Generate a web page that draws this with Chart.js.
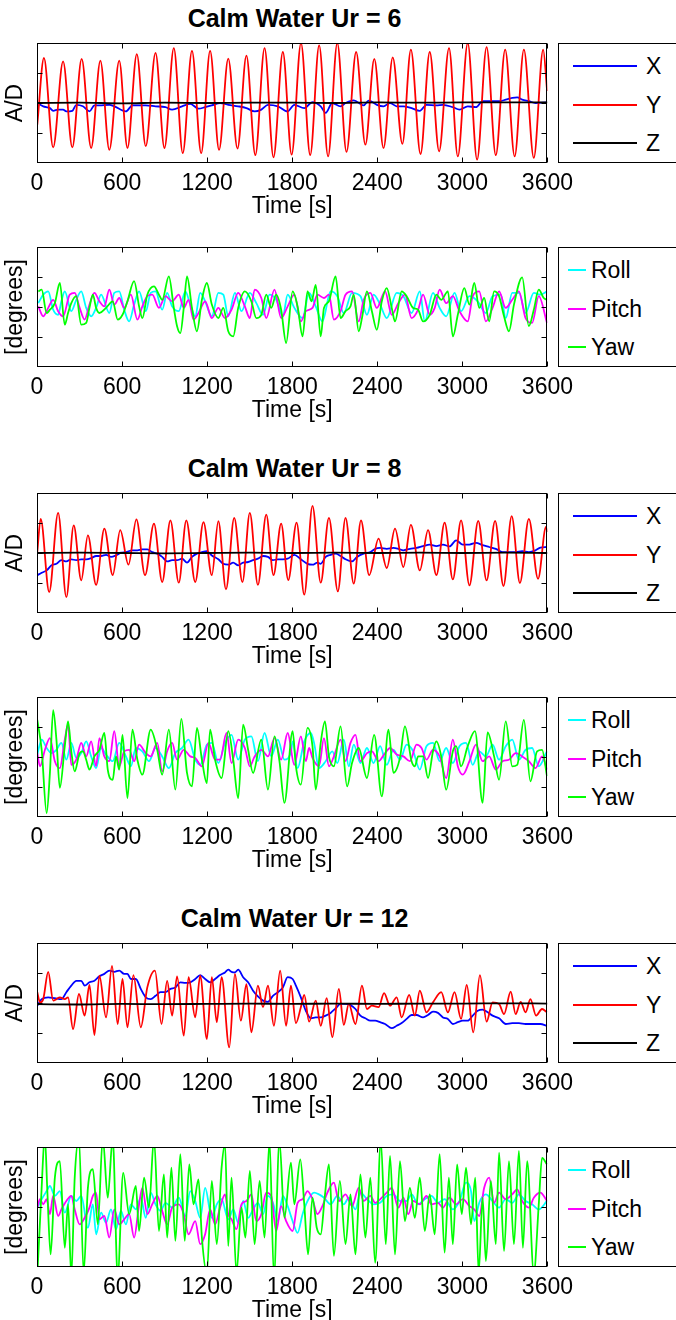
<!DOCTYPE html>
<html>
<head>
<meta charset="utf-8">
<script src="https://cdn.jsdelivr.net/npm/chart.js@4.4.0/dist/chart.umd.min.js"></script>
<style>
  body { margin: 0; background: #fff; }
  #page { position: relative; width: 676px; height: 1320px; overflow: hidden; font-family: "Liberation Sans", Arial, sans-serif; }
  .title { position: absolute; left: 37px; width: 515px; text-align: center; font-weight: bold; font-size: 25px; line-height: 28px; }
  canvas { position: absolute; left: 0; }
  .legend { position: absolute; left: 558px; width: 130px; border: 1px solid #000; background: #fff; box-sizing: border-box; }
  .legend .sw { position: absolute; height: 2px; }
  .legend .lbl { position: absolute; font-size: 23px; line-height: 26px; }
</style>
</head>
<body>
<div id="page"></div>
<script>
// time axis ticks (s) and y ticks (no labels)
const timeTicks = [0, 600, 1200, 1800, 2400, 3000, 3600];
const yTicks = [-1, 0, 1];

// ---- Ur = 6 ----
const ur6X = [[2,0],[44,-0.11],[91,-0.17],[114,-0.26],[149,-0.22],[184,-0.22],[207,-0.28],[249,-0.26],[277,-0.06],[324,-0.11],[370,-0.28],[405,-0.08],[440,-0.08],[510,-0.06],[545,-0.11],[627,-0.28],[673,-0.08],[767,-0.08],[836,-0.11],[906,-0.14],[953,-0.22],[1023,-0.11],[1081,-0.03],[1139,-0.19],[1186,-0.14],[1233,-0.08],[1291,0],[1349,-0.06],[1419,-0.11],[1477,-0.17],[1535,-0.28],[1582,-0.22],[1629,-0.06],[1699,-0.11],[1768,-0.28],[1815,-0.06],[1885,-0.17],[1943,0.03],[2001,-0.11],[2036,-0.33],[2083,0],[2141,-0.11],[2176,0],[2234,0.09],[2304,-0.08],[2339,0.08],[2397,-0.06],[2444,-0.11],[2490,0],[2537,-0.11],[2584,-0.11],[2642,-0.17],[2700,-0.26],[2747,-0.06],[2817,-0.08],[2863,-0.06],[2933,-0.14],[2980,-0.22],[3038,-0.11],[3096,-0.14],[3143,0.06],[3213,0.06],[3259,0.06],[3306,0.11],[3352,0.17],[3387,0.19],[3422,0.11],[3469,0.06],[3516,0],[3597,0.02]];
const ur6Y = [[2,-0.72],[49,1.5],[114,-1.48],[184,1.39],[249,-1.48],[315,1.47],[382,-1.5],[447,1.41],[510,-1.56],[580,1.41],[638,-1.5],[704,1.63],[767,-1.44],[836,1.67],[899,-1.5],[965,1.83],[1028,-1.67],[1093,1.74],[1158,-1.67],[1221,1.74],[1284,-1.56],[1349,1.48],[1414,-1.52],[1477,1.58],[1540,-1.74],[1605,1.83],[1668,-1.81],[1734,1.7],[1796,-1.72],[1862,2.0],[1927,-1.74],[1990,1.92],[2053,-1.78],[2118,2.0],[2183,-1.63],[2251,1.7],[2316,-1.39],[2379,1.47],[2444,-1.5],[2509,1.52],[2577,-1.36],[2637,1.78],[2705,-1.7],[2770,1.7],[2836,-1.61],[2906,1.83],[2968,-1.78],[3038,2.0],[3104,-1.89],[3171,1.86],[3236,-1.74],[3302,1.78],[3369,-1.78],[3434,1.78],[3504,-1.83],[3570,1.78],[3598,0.4]];
const ur6Z = [[0,0],[300,0.01],[600,-0.01],[900,0.01],[1200,0],[1500,0.01],[1800,0.01],[2100,0],[2400,0.02],[2700,0.01],[3000,0.02],[3300,0.02],[3600,0.02]];
const ur6Roll = [[9,0.13],[44,0.41],[79,0.52],[114,-0.09],[149,-0.26],[172,0.19],[196,0.52],[242,-0.14],[277,0.24],[312,0.52],[347,-0.03],[382,-0.31],[417,-0.03],[452,0.41],[510,-0.2],[545,0.47],[580,0.52],[615,-0.09],[650,-0.48],[685,0.08],[720,0.52],[767,-0.14],[802,0.47],[836,0.52],[883,-0.09],[918,0.47],[953,0.02],[1000,-0.14],[1046,0.52],[1081,0.08],[1116,-0.31],[1151,0.47],[1186,0.19],[1233,-0.31],[1279,0.47],[1314,0.41],[1349,-0.31],[1396,0.47],[1442,-0.14],[1501,0.47],[1547,0.13],[1594,-0.26],[1640,0.41],[1687,0.24],[1734,-0.31],[1768,0.41],[1815,-0.03],[1873,-0.37],[1919,0.47],[1966,0.02],[2013,-0.48],[2071,0.52],[2118,0.36],[2164,-0.2],[2222,0.47],[2281,0.36],[2327,-0.26],[2374,0.41],[2420,0.08],[2467,-0.37],[2537,0.47],[2584,0.36],[2642,-0.2],[2700,0.52],[2735,-0.48],[2793,0.47],[2840,-0.03],[2886,-0.31],[2945,0.47],[2991,-0.14],[3050,0.36],[3108,0.19],[3166,-0.2],[3213,0.36],[3271,0.41],[3306,-0.37],[3352,0.47],[3399,0.47],[3446,-0.2],[3504,0.47],[3550,0.41],[3597,0.52]];
const ur6Pitch = [[9,0.02],[44,-0.31],[79,-0.03],[114,0.24],[149,-0.14],[184,-0.31],[231,0.41],[266,0.47],[301,-0.03],[336,-0.42],[370,0.08],[405,0.47],[440,0.19],[475,0.02],[510,0.58],[545,0.08],[580,0.3],[615,-0.03],[662,0.41],[708,-0.42],[743,0.02],[778,0.36],[813,0.41],[860,-0.03],[906,0.36],[953,0.19],[1000,0.41],[1035,-0.03],[1069,0.24],[1104,-0.42],[1139,-0.2],[1186,0.19],[1233,-0.37],[1279,-0.03],[1326,-0.37],[1372,-0.09],[1419,0.47],[1466,0.02],[1501,-0.37],[1535,0.58],[1582,0.3],[1617,-0.37],[1675,0.58],[1722,-0.37],[1768,0.02],[1815,0.41],[1861,-0.48],[1896,-0.14],[1943,-0.03],[1978,0.41],[2024,0.3],[2059,0.41],[2094,-0.42],[2141,-0.14],[2176,0.41],[2222,0.52],[2269,-0.48],[2304,0.24],[2351,0.47],[2397,-0.03],[2455,0.52],[2502,-0.26],[2549,0.13],[2595,0.41],[2642,-0.37],[2688,-0.09],[2723,0.41],[2770,-0.26],[2805,-0.03],[2840,0.58],[2886,0.13],[2933,0.36],[2980,-0.14],[3038,-0.48],[3073,0.36],[3119,0.52],[3166,-0.48],[3213,-0.03],[3259,0.52],[3306,-0.03],[3352,0.24],[3399,0.52],[3446,-0.37],[3492,-0.53],[3539,0.36],[3597,-0.53]];
const ur6Yaw = [[9,0.52],[33,0.58],[68,-0.2],[91,-0.09],[126,0.13],[161,0.8],[196,-0.59],[219,-0.2],[242,0.13],[277,0.36],[312,-0.59],[347,-0.53],[370,-0.03],[394,0.41],[417,-0.03],[440,-0.2],[487,-0.03],[534,0.19],[569,-0.42],[603,-0.26],[638,0.19],[685,0.86],[720,0.02],[743,-0.37],[778,0.41],[825,0.69],[860,0.41],[883,0.24],[930,1.02],[965,-0.03],[988,-0.64],[1011,-0.87],[1035,-0.03],[1058,1.02],[1093,-0.03],[1128,-0.81],[1163,0.24],[1198,0.8],[1233,0.08],[1279,-0.37],[1314,-0.03],[1349,-0.81],[1384,-0.98],[1419,-0.03],[1466,0.52],[1512,0.19],[1547,-0.37],[1582,-0.26],[1617,0.41],[1652,-0.03],[1687,0.41],[1722,-0.09],[1757,-1.2],[1803,0.52],[1838,0.02],[1873,-0.98],[1908,0.52],[1936,0.19],[1966,0.74],[2001,-0.98],[2024,-0.03],[2059,0.19],[2106,1.02],[2141,-0.37],[2176,-0.14],[2211,0.02],[2234,0.41],[2269,-0.81],[2292,-0.37],[2327,0.52],[2362,-0.14],[2397,-0.76],[2432,0.19],[2467,0.63],[2502,-0.03],[2525,-0.48],[2572,0.52],[2607,0.36],[2653,-0.03],[2688,-0.09],[2723,-0.48],[2770,-0.26],[2817,0.41],[2851,0.24],[2898,0.52],[2933,-0.98],[2968,-0.26],[3014,0.63],[3050,0.08],[3084,0.8],[3119,-0.03],[3154,0.3],[3189,-0.48],[3224,0.52],[3259,0.36],[3294,-0.31],[3329,-0.81],[3364,0.08],[3422,0.99],[3469,-0.64],[3504,-0.09],[3539,0.58],[3574,0.3],[3597,0.24]];

// ---- Ur = 8 ----
const ur8X = [[2,-0.74],[33,-0.66],[68,-0.58],[103,-0.41],[137,-0.36],[172,-0.24],[207,-0.28],[242,-0.21],[277,-0.24],[312,-0.21],[347,-0.21],[382,-0.17],[417,-0.1],[452,-0.1],[487,-0.06],[522,-0.13],[557,-0.08],[592,0.01],[627,0.03],[673,0.09],[708,0.09],[743,0.12],[778,0.12],[813,0.03],[848,-0.02],[883,-0.13],[918,-0.28],[953,-0.24],[988,-0.24],[1023,-0.19],[1058,-0.32],[1093,-0.13],[1128,-0.02],[1163,0.03],[1198,0.06],[1233,-0.08],[1279,-0.21],[1314,-0.36],[1349,-0.39],[1384,-0.32],[1419,-0.41],[1454,-0.32],[1489,-0.3],[1524,-0.24],[1558,-0.19],[1594,-0.1],[1629,-0.13],[1664,-0.24],[1699,-0.21],[1734,-0.21],[1768,-0.19],[1815,-0.06],[1861,-0.21],[1908,-0.36],[1943,-0.39],[1978,-0.32],[2001,-0.36],[2036,-0.13],[2071,-0.06],[2106,-0.02],[2141,-0.1],[2176,-0.21],[2222,-0.28],[2257,-0.13],[2304,-0.02],[2351,0.03],[2385,0.14],[2420,0.17],[2467,0.14],[2514,0.17],[2549,0.14],[2584,0.09],[2630,0.14],[2677,0.17],[2723,0.23],[2770,0.28],[2817,0.23],[2863,0.28],[2910,0.22],[2956,0.42],[3003,0.28],[3050,0.28],[3096,0.34],[3143,0.26],[3189,0.2],[3236,0.14],[3283,0.03],[3329,0.03],[3376,0.03],[3422,0.06],[3469,0.03],[3516,0.09],[3550,0.18],[3597,0.2]];
const ur8Y = [[2,0.03],[26,1.14],[86,-1.3],[149,1.34],[207,-1.47],[259,0.92],[312,-0.91],[359,0.59],[417,-1.06],[475,0.81],[534,-0.74],[587,0.76],[645,-0.39],[701,1.12],[762,-0.74],[825,0.98],[883,-0.97],[941,1.09],[1000,-0.99],[1053,1.09],[1116,-0.97],[1174,1.03],[1233,-0.74],[1279,1.06],[1333,-1.21],[1391,1.17],[1449,-0.97],[1501,1.34],[1558,-1.06],[1617,1.28],[1668,-0.74],[1722,0.98],[1772,-0.9],[1831,1.01],[1885,-1.39],[1943,1.57],[2001,-0.99],[2059,1.17],[2122,-1.28],[2176,1.17],[2234,-1.02],[2285,1.09],[2343,-0.74],[2409,0.48],[2467,-0.5],[2525,0.81],[2584,-0.47],[2637,0.94],[2700,-0.58],[2758,0.76],[2817,-0.74],[2875,1.01],[2933,-0.88],[2991,1.09],[3050,-1.08],[3112,1.07],[3171,-0.91],[3231,1.07],[3290,-1.1],[3348,1.23],[3406,-1.0],[3469,1.14],[3534,-0.86],[3590,0.87],[3598,0.7]];
const ur8Z = [[0,0],[300,0.01],[600,0],[900,-0.01],[1200,0],[1500,0.01],[1800,0],[2100,0.01],[2400,0],[2700,0.01],[3000,0],[3300,0.01],[3600,0]];
const ur8Roll = [[2,0.08],[33,0.58],[68,0.3],[103,0.13],[137,0.24],[172,0.47],[207,-0.09],[242,0.47],[277,-0.03],[312,0.13],[347,0.52],[382,0.02],[417,-0.37],[452,0.3],[487,0.08],[534,-0.14],[580,0.47],[627,0.02],[662,-0.31],[697,0.3],[743,0.19],[790,-0.14],[836,0.3],[883,0.02],[930,-0.37],[976,0.13],[1023,0.3],[1069,0.58],[1116,-0.09],[1151,-0.26],[1198,0.41],[1233,0.47],[1279,-0.2],[1326,0.47],[1372,0.74],[1419,-0.09],[1466,0.58],[1512,0.69],[1558,-0.14],[1605,0.8],[1652,0.02],[1699,0.58],[1745,-0.09],[1792,0.19],[1803,0.52],[1838,-0.37],[1885,0.52],[1931,0.8],[1954,0.47],[1989,-0.37],[2036,-0.14],[2083,0.19],[2118,-0.2],[2164,0.58],[2199,-0.31],[2234,0.41],[2281,-0.2],[2327,0.3],[2374,-0.2],[2420,0.36],[2467,-0.26],[2514,0.24],[2560,-0.09],[2607,0.41],[2653,0.19],[2700,-0.42],[2747,0.36],[2793,0.47],[2840,-0.14],[2886,0.3],[2933,-0.2],[2980,0.36],[3026,0.47],[3073,-0.26],[3119,0.19],[3166,0.02],[3213,0.41],[3259,-0.09],[3306,0.36],[3352,0.58],[3399,-0.09],[3446,0.24],[3492,0.3],[3539,-0.31],[3597,0.19]];
const ur8Pitch = [[2,0.13],[21,-0.31],[56,0.24],[91,0.63],[126,-0.14],[161,-0.37],[196,0.58],[219,1.08],[242,-0.26],[277,-0.09],[312,0.47],[347,0.02],[382,0.52],[417,-0.31],[440,0.63],[475,0.02],[510,-0.14],[545,0.86],[580,-0.31],[615,0.19],[650,0.24],[685,-0.14],[720,0.41],[767,0.13],[802,0.02],[848,0.47],[883,-0.48],[918,0.19],[953,0.47],[988,-0.09],[1035,0.24],[1081,0.02],[1116,-0.03],[1163,-0.31],[1209,0.47],[1256,-0.09],[1291,-0.09],[1337,0.8],[1372,-0.2],[1419,0.58],[1466,0.3],[1501,-0.31],[1535,0.02],[1582,0.24],[1629,0.02],[1675,0.63],[1722,-0.09],[1768,0.8],[1815,-0.26],[1861,0.69],[1896,-0.14],[1919,0.3],[1943,-0.03],[1989,-0.31],[2024,0.63],[2059,-0.31],[2094,0.02],[2141,0.58],[2176,-0.14],[2211,0.47],[2246,0.74],[2281,-0.14],[2327,0.13],[2362,0.19],[2409,-0.14],[2455,0.13],[2490,0.3],[2537,0.08],[2584,0.02],[2630,-0.14],[2677,0.41],[2712,0.3],[2747,-0.09],[2793,0.24],[2840,0.02],[2886,-0.7],[2933,0.58],[2968,-0.31],[3003,-0.59],[3050,-0.14],[3096,0.41],[3143,-0.14],[3189,0.02],[3236,-0.42],[3283,-0.14],[3329,-0.09],[3376,0.13],[3422,0.02],[3469,-0.14],[3516,-0.37],[3562,0.02],[3597,-0.42]];
const ur8Yaw = [[2,1.24],[33,0.24],[68,-1.87],[91,-0.53],[114,1.56],[137,0.58],[161,-1.03],[196,0.36],[219,1.19],[242,0.19],[266,-0.48],[301,0.13],[324,0.19],[347,-0.09],[370,-0.42],[405,0.02],[440,0.24],[475,0.8],[499,-0.42],[534,-0.76],[557,0.02],[580,-0.42],[603,0.74],[638,-1.37],[673,0.91],[708,-0.09],[743,-0.59],[802,0.91],[848,0.24],[883,-0.59],[930,0.91],[976,-1.09],[1018,1.27],[1058,-0.53],[1093,-0.98],[1128,0.97],[1163,-0.09],[1198,-0.87],[1221,0.91],[1256,-0.09],[1302,-0.7],[1349,0.86],[1384,-0.09],[1419,-1.37],[1454,1.08],[1489,0.24],[1524,-0.53],[1582,0.58],[1629,-1.09],[1675,0.69],[1710,-0.14],[1745,-1.53],[1803,0.86],[1826,-0.31],[1861,-0.92],[1908,0.97],[1943,0.36],[1966,-1.09],[2001,0.47],[2031,1.19],[2059,0.02],[2094,-0.31],[2141,1.02],[2187,-0.98],[2222,-0.2],[2269,0.3],[2327,-0.7],[2378,0.74],[2432,-1.31],[2479,0.91],[2514,-0.53],[2560,-0.03],[2595,1.02],[2642,-0.14],[2665,-0.31],[2688,0.02],[2723,0.02],[2758,-0.7],[2793,0.19],[2817,0.52],[2851,0.02],[2886,-1.09],[2933,0.19],[2956,0.36],[2991,-0.31],[3038,0.36],[3089,0.86],[3143,-1.53],[3178,0.82],[3224,0.02],[3259,-0.76],[3306,1.19],[3352,-0.31],[3387,-0.26],[3434,1.24],[3480,-0.81],[3527,0.19],[3562,0.24],[3597,-0.64]];

// ---- Ur = 12 ----
const ur12X = [[2,-0.09],[33,0.13],[79,0.19],[126,0.16],[172,0.13],[207,0.36],[242,0.58],[277,0.74],[312,0.74],[336,0.58],[370,0.69],[405,0.74],[440,0.89],[475,0.97],[510,1.08],[545,1.04],[580,1.08],[615,0.97],[638,0.97],[662,0.8],[697,0.8],[732,0.47],[767,0.19],[802,0.13],[836,0.24],[871,0.36],[906,0.36],[941,0.47],[976,0.52],[1011,0.69],[1046,0.67],[1081,0.69],[1116,0.8],[1151,0.93],[1186,0.8],[1221,0.69],[1256,0.8],[1291,0.93],[1326,1.02],[1349,1.11],[1372,1.04],[1396,1.02],[1419,1.11],[1454,0.86],[1489,0.69],[1524,0.41],[1558,0.22],[1594,0.08],[1629,0.04],[1664,0.24],[1699,0.36],[1734,0.52],[1768,0.86],[1803,0.8],[1826,0.58],[1861,0.19],[1896,-0.26],[1931,-0.51],[1966,-0.48],[2001,-0.48],[2036,-0.42],[2071,-0.33],[2106,-0.18],[2141,-0.03],[2176,-0.03],[2211,-0.07],[2246,-0.2],[2281,-0.42],[2316,-0.51],[2351,-0.59],[2385,-0.59],[2420,-0.64],[2455,-0.7],[2502,-0.84],[2537,-0.76],[2572,-0.67],[2607,-0.53],[2642,-0.4],[2677,-0.4],[2723,-0.48],[2758,-0.4],[2793,-0.29],[2828,-0.33],[2863,-0.48],[2898,-0.53],[2933,-0.7],[2968,-0.64],[3003,-0.59],[3038,-0.59],[3073,-0.42],[3108,-0.26],[3143,-0.22],[3178,-0.31],[3213,-0.42],[3259,-0.51],[3306,-0.7],[3352,-0.67],[3399,-0.67],[3446,-0.7],[3504,-0.7],[3550,-0.7],[3597,-0.76]];
const ur12Y = [[2,0.36],[21,0.02],[44,0.13],[79,1.04],[114,0.08],[137,0.13],[161,0.19],[196,0.13],[219,0.19],[254,-0.87],[296,0.3],[336,-0.42],[370,0.6],[405,-1.07],[440,0.91],[487,-0.48],[529,1.24],[569,-0.7],[603,0.8],[638,-0.81],[680,0.93],[732,-0.81],[778,0.52],[832,1.08],[878,-0.7],[918,0.74],[953,-0.42],[988,0.89],[1035,-1.09],[1069,0.86],[1116,-0.48],[1151,0.91],[1198,-1.2],[1233,0.86],[1268,-0.64],[1302,0.86],[1356,-1.48],[1396,0.97],[1438,-0.59],[1477,0.63],[1512,-0.98],[1558,0.58],[1594,-0.14],[1629,0.58],[1671,-0.76],[1715,1.08],[1757,-0.76],[1791,0.58],[1826,-0.67],[1861,-0.14],[1885,0.27],[1919,-0.62],[1966,0.08],[2001,-0.76],[2043,0.16],[2083,-1.14],[2129,0.47],[2164,-0.73],[2199,-0.03],[2246,-0.7],[2292,0.58],[2327,-0.2],[2362,-0.09],[2409,-0.14],[2448,0.33],[2490,-0.09],[2537,0.19],[2572,-0.48],[2625,0.27],[2665,-0.42],[2700,0.41],[2747,-0.31],[2793,0.02],[2851,0.36],[2898,-0.31],[2945,0.36],[2991,-0.53],[3031,0.6],[3077,-0.98],[3124,0.93],[3171,-0.62],[3213,0.02],[3259,-0.03],[3294,-0.37],[3341,0.38],[3376,-0.37],[3411,0.04],[3446,-0.31],[3480,0.13],[3520,-0.42],[3562,-0.2],[3597,-0.31]];
const ur12Z = [[0,-0.04],[300,-0.05],[600,-0.03],[900,-0.04],[1200,-0.03],[1500,-0.02],[1800,-0.03],[2100,-0.02],[2400,-0.03],[2700,-0.02],[3000,-0.02],[3300,-0.01],[3600,-0.02]];
const ur12Roll = [[2,-0.02],[33,0.26],[68,0.53],[91,0.7],[126,0.37],[161,0.53],[196,-0.19],[242,0.37],[277,0.2],[312,0.37],[359,-0.69],[394,0.09],[417,-0.91],[452,-0.19],[487,-0.52],[522,-0.08],[557,-0.74],[592,-0.13],[627,-0.58],[662,0.09],[697,-0.08],[732,0.31],[767,-0.36],[802,0.48],[836,0.09],[871,-0.13],[906,0.14],[953,-0.02],[1000,0.31],[1046,-0.3],[1081,0.53],[1116,0.2],[1151,-0.36],[1186,0.64],[1233,-0.36],[1268,0.09],[1302,0.26],[1349,-0.41],[1384,-0.08],[1419,-0.52],[1454,0.2],[1489,-0.36],[1524,-0.08],[1558,0.14],[1594,-0.24],[1629,0.37],[1664,0.14],[1699,-0.47],[1734,0.37],[1768,0.03],[1803,-0.47],[1838,-0.86],[1873,-0.24],[1908,0.2],[1954,0.48],[1989,0.42],[2024,0.31],[2071,0.09],[2118,0.37],[2164,0.09],[2199,0.31],[2246,-0.08],[2281,0.48],[2327,0.26],[2374,0.09],[2420,0.14],[2467,0.37],[2514,0.42],[2560,0.2],[2607,0.2],[2642,0.42],[2688,0.09],[2735,0.26],[2782,0.37],[2828,0.14],[2875,0.26],[2933,-0.08],[2980,0.2],[3026,0.81],[3061,0.53],[3084,-0.47],[3119,0.14],[3166,0.42],[3213,0.2],[3259,-0.02],[3306,0.26],[3352,0.14],[3399,0.42],[3446,0.2],[3492,0.09],[3539,-0.08],[3597,0.2]];
const ur12Pitch = [[2,-0.02],[21,0.26],[44,0.09],[68,0.26],[91,-0.24],[114,0.37],[149,-0.3],[172,-0.08],[207,0.2],[242,0.37],[266,-0.08],[301,-0.58],[336,-0.36],[370,-0.02],[394,0.37],[417,0.48],[440,-0.41],[475,-0.3],[510,-1.02],[545,-0.08],[580,-0.58],[615,-0.41],[650,-0.24],[685,-1.02],[720,0.09],[743,0.64],[778,-0.24],[813,0.09],[848,0.37],[883,-0.13],[918,-0.58],[953,-0.02],[1000,0.09],[1035,-0.24],[1069,-0.91],[1116,-0.47],[1151,-1.24],[1186,-0.91],[1221,-0.08],[1256,-0.58],[1291,-0.02],[1326,0.42],[1349,-0.24],[1372,-0.41],[1407,-0.74],[1442,0.09],[1477,0.2],[1512,0.42],[1547,-0.47],[1582,-0.24],[1617,0.48],[1652,0.37],[1687,-0.8],[1722,0.03],[1757,-0.47],[1803,-0.8],[1838,0.14],[1873,0.26],[1908,0.53],[1943,0.26],[1978,-0.24],[2013,0.03],[2048,0.48],[2094,0.81],[2129,0.2],[2176,0.42],[2222,0.03],[2269,0.64],[2304,0.2],[2351,0.37],[2385,0.14],[2432,0.31],[2467,0.48],[2502,0.64],[2549,-0.02],[2584,0.31],[2619,-0.24],[2653,0.2],[2700,0.09],[2747,0.37],[2782,0.09],[2828,0.14],[2863,-0.02],[2910,0.31],[2956,0.09],[3003,0.26],[3050,0.03],[3084,-0.08],[3119,-0.3],[3154,0.64],[3189,0.98],[3224,0.14],[3259,0.48],[3306,0.26],[3352,0.42],[3387,0.59],[3422,0.2],[3469,-0.02],[3504,0.31],[3550,0.48],[3597,0.2]];
const ur12Yaw = [[2,-2.3],[26,-0.02],[56,2.3],[72,0.64],[96,-1.58],[126,0.98],[161,1.53],[196,-1.36],[219,0.09],[242,-2.3],[266,0.98],[296,2.3],[329,-2.2],[359,0.64],[394,1.26],[429,-0.58],[464,2.3],[499,0.31],[534,2.3],[569,-2.3],[608,1.14],[650,-0.24],[697,0.7],[720,-0.8],[755,0.98],[790,-0.02],[825,2.3],[860,-0.8],[895,1.09],[918,-1.02],[948,1.31],[976,-1.13],[1011,1.76],[1042,-1.13],[1074,1.42],[1104,0.09],[1139,0.92],[1163,-1.02],[1198,-2.2],[1233,0.87],[1268,-1.24],[1302,1.31],[1326,2.1],[1349,-1.3],[1372,0.98],[1407,-2.2],[1442,-0.02],[1470,-1.02],[1501,1.2],[1535,-1.24],[1570,0.87],[1605,-1.02],[1640,2.2],[1671,-2.3],[1710,2.2],[1745,-0.36],[1791,1.48],[1815,0.09],[1857,1.59],[1885,0.09],[1912,-1.58],[1943,0.31],[1973,-0.69],[2001,-0.91],[2029,0.31],[2059,1.42],[2094,-1.63],[2136,0.87],[2176,-1.24],[2211,0.42],[2246,-1.58],[2281,1.09],[2316,-1.02],[2351,0.98],[2385,-1.86],[2425,2.2],[2460,-1.24],[2490,1.7],[2525,-1.58],[2560,1.53],[2595,-0.47],[2630,0.64],[2665,-0.36],[2700,0.98],[2735,-0.8],[2770,0.42],[2805,-0.91],[2840,1.76],[2875,-1.52],[2905,0.98],[2933,-1.24],[2963,1.42],[2996,-0.24],[3026,1.31],[3061,-0.58],[3091,0.98],[3115,-2.2],[3143,0.31],[3166,-1.8],[3201,0.87],[3236,-1.24],[3259,1.81],[3294,-1.47],[3329,1.53],[3364,-1.24],[3399,1.87],[3427,-1.36],[3457,1.53],[3504,-2.2],[3539,0.09],[3562,1.64],[3597,1.42]];

const xyzNames = ['X', 'Y', 'Z'];
const xyzColors = ['#0000ff', '#ff0000', '#000000'];
const rpyNames = ['Roll', 'Pitch', 'Yaw'];
const rpyColors = ['#00ffff', '#ff00ff', '#00ff00'];

const panels = [
  { top: 43, title: 'Calm Water Ur = 6', yLabel: 'A/D', names: xyzNames, colors: xyzColors, series: [ur6X, ur6Y, ur6Z] },
  { top: 247, title: null, yLabel: '[degrees]', names: rpyNames, colors: rpyColors, series: [ur6Roll, ur6Pitch, ur6Yaw] },
  { top: 493, title: 'Calm Water Ur = 8', yLabel: 'A/D', names: xyzNames, colors: xyzColors, series: [ur8X, ur8Y, ur8Z] },
  { top: 697, title: null, yLabel: '[degrees]', names: rpyNames, colors: rpyColors, series: [ur8Roll, ur8Pitch, ur8Yaw] },
  { top: 943, title: 'Calm Water Ur = 12', yLabel: 'A/D', names: xyzNames, colors: xyzColors, series: [ur12X, ur12Y, ur12Z] },
  { top: 1147, title: null, yLabel: '[degrees]', names: rpyNames, colors: rpyColors, series: [ur12Roll, ur12Pitch, ur12Yaw] }
];

const PLOT_H = 120;
const FONT = '"Liberation Sans", Arial, sans-serif';

// box + inward MATLAB style ticks
const framePlugin = {
  id: 'frame',
  afterDatasetsDraw(chart) {
    const { ctx, chartArea: a, scales: { x, y } } = chart;
    const L = Math.round(a.left) + 0.5, R = Math.round(a.right) - 0.5;
    const T = Math.round(a.top) + 0.5, B = Math.round(a.bottom) - 0.5;
    ctx.save();
    ctx.strokeStyle = '#000';
    ctx.lineWidth = 1;
    ctx.strokeRect(L, T, R - L, B - T);
    ctx.beginPath();
    timeTicks.forEach(t => {
      const px = Math.round(x.getPixelForValue(t)) + 0.5;
      ctx.moveTo(px, B); ctx.lineTo(px, B - 5);
      ctx.moveTo(px, T); ctx.lineTo(px, T + 5);
    });
    yTicks.forEach(t => {
      const py = Math.round(y.getPixelForValue(t)) + 0.5;
      ctx.moveTo(L, py); ctx.lineTo(L + 5, py);
      ctx.moveTo(R, py); ctx.lineTo(R - 5, py);
    });
    ctx.stroke();
    ctx.restore();
  }
};

const page = document.getElementById('page');

panels.forEach(p => {
  if (p.title) {
    const t = document.createElement('div');
    t.className = 'title';
    t.style.top = (p.top - 39) + 'px';
    t.textContent = p.title;
    page.appendChild(t);
  }

  const cv = document.createElement('canvas');
  cv.width = 580;
  cv.height = PLOT_H + 60;
  cv.style.top = (p.top - 2) + 'px';
  page.appendChild(cv);

  new Chart(cv, {
    type: 'line',
    data: {
      datasets: p.series.map((s, i) => ({
        label: p.names[i],
        data: s.map(d => ({ x: d[0], y: d[1] })),
        borderColor: p.colors[i],
        borderWidth: 1.8,
        pointRadius: 0,
        cubicInterpolationMode: 'monotone',
        order: 3 - i,
        clip: 0
      }))
    },
    options: {
      responsive: false,
      animation: false,
      events: [],
      layout: { padding: { top: 2, right: 28, left: 0, bottom: 0 } },
      plugins: { legend: { display: false }, tooltip: { enabled: false } },
      scales: {
        x: {
          type: 'linear', min: 0, max: 3600,
          afterBuildTicks: s => { s.ticks = timeTicks.map(v => ({ value: v })); },
          ticks: { color: '#000', font: { size: 23, family: FONT }, padding: 7, maxRotation: 0, autoSkip: false, callback: v => String(v) },
          grid: { display: false, tickLength: 0 }, border: { display: false },
          title: { display: true, text: 'Time [s]', color: '#000', font: { size: 23, family: FONT }, padding: { top: 0, bottom: 1 } },
          afterFit: s => { s.height = 58; }
        },
        y: {
          min: -2, max: 2,
          ticks: { display: false },
          grid: { display: false }, border: { display: false },
          title: { display: true, text: p.yLabel, color: '#000', font: { size: 23, family: FONT }, padding: { top: 2, bottom: 0 } },
          afterFit: s => { s.width = 37; }
        }
      }
    },
    plugins: [framePlugin]
  });

  // legend box
  const xyz = p.names === xyzNames;
  const lg = document.createElement('div');
  lg.className = 'legend';
  lg.style.top = p.top + 'px';
  lg.style.height = PLOT_H + 'px';
  p.names.forEach((n, i) => {
    const cy = [22, 61, 99][i];
    const sw = document.createElement('div');
    sw.className = 'sw';
    sw.style.background = p.colors[i];
    sw.style.left = (xyz ? 14 : 9) + 'px';
    sw.style.width = (xyz ? 64 : 18) + 'px';
    sw.style.top = (cy - 1) + 'px';
    lg.appendChild(sw);
    const lb = document.createElement('div');
    lb.className = 'lbl';
    lb.textContent = n;
    lb.style.left = (xyz ? 87 : 32) + 'px';
    lb.style.top = (cy - 13) + 'px';
    lg.appendChild(lb);
  });
  page.appendChild(lg);
});
</script>
</body>
</html>
